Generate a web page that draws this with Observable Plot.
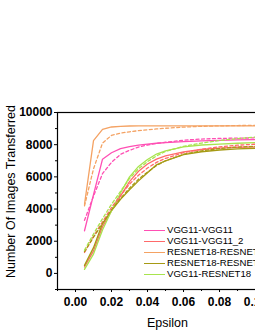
<!DOCTYPE html>
<html>
<head>
<meta charset="utf-8">
<script src="https://cdn.jsdelivr.net/npm/d3@7"></script>
<script src="https://cdn.jsdelivr.net/npm/@observablehq/plot@0.6"></script>
<style>
  html, body { margin: 0; padding: 0; background: #fff; overflow: hidden; }
  #wrap { position: relative; width: 255px; height: 330px; overflow: hidden; font-family: "Liberation Sans", Arial, sans-serif; }
  #wrap svg { max-width: none !important; width: 300px !important; height: 330px !important; display: block; }
  #legend { position: absolute; left: 144px; top: 225px; width: 220px; font-size: 9.6px; line-height: 10.9px; white-space: nowrap; }
  #legend .row { display: flex; align-items: center; height: 10.9px; width: 220px; }
  #legend .sw { flex: 0 0 21px; width: 21px; height: 0; border-top: 1.3px solid; margin-right: 2px; }
  #legend span { flex: 0 0 auto; }
</style>
</head>
<body>
<div id="wrap"></div>
<script>
const eps = [0.005,0.01,0.015,0.02,0.025,0.03,0.035,0.04,0.045,0.05,0.06,0.07,0.08,0.09,0.1,0.11];

const pinkSolid    = [2650,4900,7100,7500,7750,7880,7970,8040,8090,8130,8190,8240,8270,8300,8320,8330];
const pinkDashed   = [3300,4800,6200,6900,7400,7650,7850,7980,8080,8150,8280,8350,8390,8410,8420,8430];
const salmonSolid  = [400,1400,2900,3900,4800,5700,6350,6800,7100,7300,7550,7700,7790,7840,7870,7890];
const salmonDashed = [1300,2300,3200,4100,4850,5550,6100,6550,6900,7150,7500,7720,7870,7970,8030,8070];
const orangeSolid  = [4300,8250,8950,9100,9140,9160,9170,9170,9170,9170,9170,9170,9170,9170,9170,9170];
const orangeDashed = [4200,6500,8100,8580,8720,8800,8870,8930,8980,9020,9090,9140,9170,9190,9200,9200];
const oliveSolid   = [500,1600,3100,3900,4600,5200,5750,6250,6750,7000,7380,7560,7670,7740,7780,7800];
const oliveDashed  = [1350,2250,3100,3950,4650,5300,5850,6300,6700,7000,7400,7620,7760,7850,7900,7930];
const greenSolid   = [250,1200,2700,3900,5000,6000,6650,7080,7420,7620,7860,7980,8040,8090,8130,8150];
const greenDashed  = [1450,2450,3400,4300,5100,5900,6500,6950,7300,7580,7900,8100,8260,8380,8470,8520];

const labels = ["VGG11-VGG11","VGG11-VGG11_2","RESNET18-RESNET18","RESNET18-RESNET18_2","VGG11-RESNET18"];
const colors = ["#ff4fb4","#ff6a6a","#f4a263","#a69a14","#a8e44e"];
const solids = [pinkSolid, salmonSolid, orangeSolid, oliveSolid, greenSolid];
const dashes = [pinkDashed, salmonDashed, orangeDashed, oliveDashed, greenDashed];

const yTicks = [0,2000,4000,6000,8000,10000];
const yMinor = [-1000,1000,3000,5000,7000,9000];
const xTicks = [0,0.02,0.04,0.06,0.08,0.1];
const xMinor = [-0.01,0.01,0.03,0.05,0.07,0.09,0.11];

function rows(vals, i) { return eps.map((e, k) => ({x: e, y: vals[k], s: i})); }

const marks = [];
solids.forEach((v, i) => marks.push(Plot.line(rows(v, i), {x: "x", y: "y", stroke: colors[i], strokeWidth: 1.3})));
dashes.forEach((v, i) => marks.push(Plot.line(rows(v, i), {x: "x", y: "y", stroke: colors[i], strokeWidth: 1.3, strokeDasharray: "3,2.5"})));

const chart = Plot.plot({
  width: 300,
  height: 330,
  marginLeft: 57,
  marginTop: 112,
  marginBottom: 41,
  marginRight: 23,
  style: {fontFamily: "'Liberation Sans', Arial, sans-serif", background: "#fff", overflow: "visible"},
  x: {domain: [-0.01, 0.1122]},
  y: {domain: [-1000, 10000]},
  marks: [
    ...marks,
    Plot.frame({stroke: "#000", strokeWidth: 1.2}),
    Plot.axisY({ticks: yTicks, tickSize: 3, tickPadding: 2, fontSize: 12, fontWeight: "bold", label: null, tickFormat: d3.format("d"), stroke: "#000"}),
    Plot.axisY({ticks: yMinor, tickSize: 2, text: null, label: null, stroke: "#000"}),
    Plot.axisX({ticks: xTicks, tickSize: 3, tickPadding: 5, fontSize: 12, fontWeight: "bold", label: null, tickFormat: d3.format(".2f"), stroke: "#000"}),
    Plot.axisX({ticks: xMinor, tickSize: 2, text: null, label: null, stroke: "#000"}),
    Plot.text(["Epsilon"], {frameAnchor: "bottom", dy: 33, fontSize: 12.5, textAnchor: "middle", lineAnchor: "middle", fill: "#000"}),
    Plot.text(["Number Of Images Transferred"], {frameAnchor: "top-left", dx: -47, dy: 79, rotate: -90, fontSize: 12.5, textAnchor: "middle", lineAnchor: "middle", fill: "#000"})
  ]
});

const wrap = document.getElementById("wrap");
wrap.appendChild(chart);

const legend = d3.select(wrap).append("div").attr("id", "legend");
labels.forEach((l, i) => {
  const r = legend.append("div").attr("class", "row");
  r.append("div").attr("class", "sw").style("border-top-color", colors[i]);
  r.append("span").text(l);
});
</script>
</body>
</html>
